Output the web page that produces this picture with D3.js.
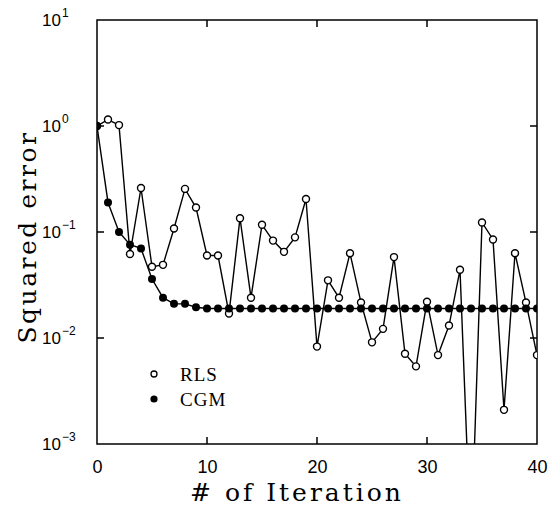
<!DOCTYPE html>
<html>
<head>
<meta charset="utf-8">
<script src="https://cdn.jsdelivr.net/npm/d3@7"></script>
<style>
  html, body { margin: 0; padding: 0; background: #fff; }
  svg { display: block; }
</style>
</head>
<body>
<svg id="chart" width="548" height="517"></svg>
<script>
const iterations = d3.range(0, 41);
const rlsValues = [1.0, 1.15, 1.02, 0.062, 0.26, 0.047, 0.049, 0.108, 0.255, 0.17,
  0.06, 0.06, 0.017, 0.135, 0.024, 0.117, 0.083, 0.065, 0.089, 0.205,
  0.0083, 0.035, 0.024, 0.063, 0.0216, 0.0091, 0.0122, 0.058, 0.0071, 0.0054,
  0.022, 0.0069, 0.0131, 0.044, 0.0001, 0.123, 0.085, 0.0021, 0.063, 0.0216, 0.0069];
const cgmValues = [1.0, 0.19, 0.1, 0.076, 0.07, 0.036, 0.024, 0.021, 0.021, 0.0195,
  0.019, 0.019, 0.019, 0.019, 0.019, 0.019, 0.019, 0.019, 0.019, 0.019,
  0.019, 0.019, 0.019, 0.019, 0.019, 0.019, 0.019, 0.019, 0.019, 0.019,
  0.019, 0.019, 0.019, 0.019, 0.019, 0.019, 0.019, 0.019, 0.019, 0.019, 0.019];
const xTicks = [0, 10, 20, 30, 40];
const yTickExponents = [1, 0, -1, -2, -3];
const yLabelExponents = ["1", "0", "−1", "−2", "−3"];
const seriesNames = ["RLS", "CGM"];

const svg = d3.select("#chart");
const L = 97, R = 537, T = 20, B = 444;

const x = d3.scaleLinear().domain([0, 40]).range([L, R]);
const y = d3.scaleLog().domain([1e-3, 1e1]).range([B, T]);

svg.append("defs").append("clipPath").attr("id", "clip")
  .append("rect").attr("x", L).attr("y", T).attr("width", R - L).attr("height", B - T);

// frame
svg.append("rect").attr("x", L).attr("y", T).attr("width", R - L).attr("height", B - T)
  .attr("fill", "none").attr("stroke", "#000").attr("stroke-width", 1.5);

const tl = 7;
// x ticks bottom and top (inward)
const xAxisB = d3.axisBottom(x).tickValues(xTicks).tickSize(0).tickPadding(0).tickFormat(d => d);
const gxb = svg.append("g").attr("transform", `translate(0,${B})`).call(xAxisB);
gxb.select(".domain").remove();
gxb.selectAll("text").attr("dy", null).attr("y", 29)
  .style("font-family", "'Liberation Sans', Arial, sans-serif").style("font-size", "18px")
  .attr("fill", "#000");
xTicks.filter(d => d > 0 && d < 40).forEach(d => {
  svg.append("line").attr("x1", x(d)).attr("x2", x(d)).attr("y1", B).attr("y2", B - tl)
    .attr("stroke", "#000").attr("stroke-width", 1.5);
  svg.append("line").attr("x1", x(d)).attr("x2", x(d)).attr("y1", T).attr("y2", T + tl)
    .attr("stroke", "#000").attr("stroke-width", 1.5);
});

// y ticks
yTickExponents.forEach((e, i) => {
  const v = Math.pow(10, e);
  const yy = y(v);
  if (e < 1 && e > -3) {
    svg.append("line").attr("x1", L).attr("x2", L + tl).attr("y1", yy).attr("y2", yy)
      .attr("stroke", "#000").attr("stroke-width", 1.5);
    svg.append("line").attr("x1", R).attr("x2", R - tl).attr("y1", yy).attr("y2", yy)
      .attr("stroke", "#000").attr("stroke-width", 1.5);
  }
  const g = svg.append("g").style("font-family", "'Liberation Sans', Arial, sans-serif");
  g.append("text").attr("x", 61).attr("y", yy + 6).attr("text-anchor", "end")
    .style("font-size", "17px").text("10");
  g.append("text").attr("x", 62).attr("y", yy - 3).attr("text-anchor", "start")
    .style("font-size", "12px").text(yLabelExponents[i]);
});

// axis titles
svg.append("text").attr("x", 297).attr("y", 501).attr("text-anchor", "middle")
  .style("font-family", "'DejaVu Serif', 'Liberation Serif', serif").style("font-size", "25px")
  .style("letter-spacing", "3px").text("# of Iteration");
svg.append("text").attr("transform", "translate(36,237) rotate(-90)").attr("text-anchor", "middle")
  .style("font-family", "'DejaVu Serif', 'Liberation Serif', serif").style("font-size", "25px")
  .style("letter-spacing", "2.5px").text("Squared error");

// data
const plot = svg.append("g").attr("clip-path", "url(#clip)");
const line = d3.line().x((d, i) => x(iterations[i])).y(d => y(d));
plot.append("path").datum(cgmValues).attr("d", line).attr("fill", "none")
  .attr("stroke", "#000").attr("stroke-width", 1.4);
plot.append("path").datum(rlsValues).attr("d", line).attr("fill", "none")
  .attr("stroke", "#000").attr("stroke-width", 1.4);
plot.selectAll(".rls").data(rlsValues).enter().append("circle")
  .attr("cx", (d, i) => x(iterations[i])).attr("cy", d => y(d)).attr("r", 3.5)
  .attr("fill", "#fff").attr("stroke", "#000").attr("stroke-width", 1.4);
plot.selectAll(".cgm").data(cgmValues).enter().append("circle")
  .attr("cx", (d, i) => x(iterations[i])).attr("cy", d => y(d)).attr("r", 4)
  .attr("fill", "#000");

// legend
const lg = svg.append("g").style("font-family", "'Liberation Serif', 'Times New Roman', serif").style("font-size", "19px");
lg.append("circle").attr("cx", 154).attr("cy", 374).attr("r", 3).attr("fill", "#fff").attr("stroke", "#000").attr("stroke-width", 1.3);
lg.append("text").attr("x", 180).attr("y", 381).style("letter-spacing", "1px").text(seriesNames[0]);
lg.append("circle").attr("cx", 154).attr("cy", 399).attr("r", 3.6).attr("fill", "#000");
lg.append("text").attr("x", 180).attr("y", 406).style("letter-spacing", "1px").text(seriesNames[1]);
</script>
</body>
</html>
